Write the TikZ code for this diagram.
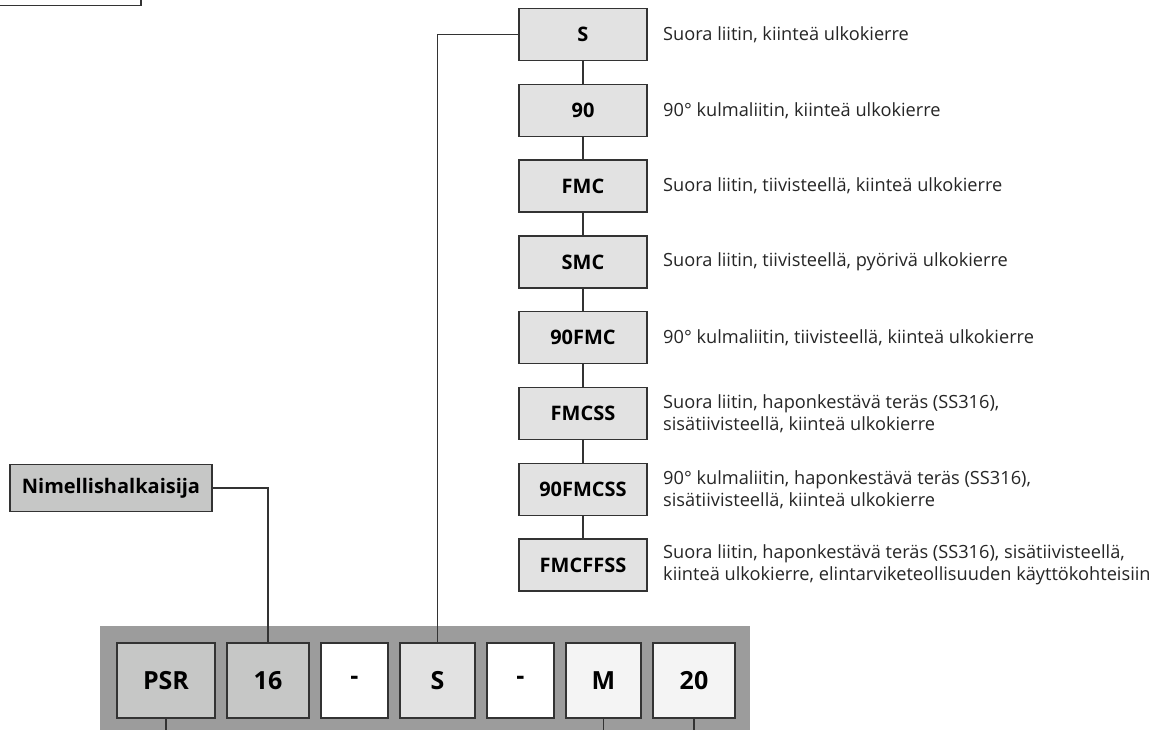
\documentclass[tikz,border=0pt]{standalone}
\usepackage{fontspec}
\setmainfont{Open Sans}
\definecolor{stripgray}{HTML}{9C9C9C}
\definecolor{midgray}{HTML}{C6C7C6}
\definecolor{boxgray}{HTML}{E2E2E2}
\definecolor{palegray}{HTML}{F4F4F4}
\definecolor{linegray}{HTML}{333333}
\begin{document}
\begin{tikzpicture}[x=1pt,y=-1pt,
 codebox/.style={draw=linegray, line width=1.3pt, fill=boxgray, minimum width=128pt, minimum height=52pt, inner sep=0pt, font=\fontsize{20}{24}\selectfont\bfseries},
 desc/.style={anchor=west, align=left, font=\fontsize{18.2}{22}\selectfont, text=black!85, inner sep=0pt},
 stripbox/.style={draw=linegray, line width=1.3pt, minimum height=75pt, inner sep=0pt, font=\fontsize{25}{30}\selectfont\bfseries},
 conn/.style={draw=linegray, line width=1.2pt}]
\useasboundingbox (0,0) rectangle (1160,729);
\clip (0,0) rectangle (1160,729);
\fill[white] (0,0) rectangle (1160,729);

% partial box top-left
\node[draw=linegray, fill=white, line width=1.3pt, minimum width=151pt, minimum height=25pt, inner sep=0pt] (tl) at (65.5,-7) {};

% column of options
\node[codebox] (c1) at (583,34.5) {S};
\node[codebox] (c2) at (583,110.3) {90};
\node[codebox] (c3) at (583,186.1) {FMC};
\node[codebox] (c4) at (583,261.9) {SMC};
\node[codebox] (c5) at (583,337.7) {90FMC};
\node[codebox] (c6) at (583,413.5) {FMCSS};
\node[codebox] (c7) at (583,489.3) {90FMCSS};
\node[codebox] (c8) at (583,565.1) {FMCFFSS};

\node[desc] (d1) at (663,34.5) {Suora liitin, kiinteä ulkokierre};
\node[desc] (d2) at (663,110.3) {90° kulmaliitin, kiinteä ulkokierre};
\node[desc] (d3) at (663,186.1) {Suora liitin, tiivisteellä, kiinteä ulkokierre};
\node[desc] (d4) at (663,261.9) {Suora liitin, tiivisteellä, pyörivä ulkokierre};
\node[desc] (d5) at (663,337.7) {90° kulmaliitin, tiivisteellä, kiinteä ulkokierre};
\node[desc] (d6) at (663,413.5) {Suora liitin, haponkestävä teräs (SS316),\\sisätiivisteellä, kiinteä ulkokierre};
\node[desc] (d7) at (663,489.3) {90° kulmaliitin, haponkestävä teräs (SS316),\\sisätiivisteellä, kiinteä ulkokierre};
\node[desc] (d8) at (663,565.1) {Suora liitin, haponkestävä teräs (SS316), sisätiivisteellä,\\kiinteä ulkokierre, elintarviketeollisuuden käyttökohteisiin};

\foreach \a/\b in {c1/c2,c2/c3,c3/c4,c4/c5,c5/c6,c6/c7,c7/c8}
  \draw[conn] (\a) -- (\b);

% Nimellishalkaisija
\node[codebox, fill=midgray, minimum width=202pt, minimum height=47pt] (nim) at (111,488) {Nimellishalkaisija};

% strip
\fill[stripgray] (100,626) rectangle (750,745);
\node[stripbox, fill=midgray, minimum width=98pt] (bPSR) at (166,680.5) {PSR};
\node[stripbox, fill=midgray, minimum width=82pt] (b16) at (268,680.5) {16};
\node[stripbox, fill=white, minimum width=67pt] (bd1) at (354.5,680.5) {-};
\node[stripbox, fill=boxgray, minimum width=75pt] (bS) at (437.5,680.5) {S};
\node[stripbox, fill=white, minimum width=67pt] (bd2) at (520.5,680.5) {-};
\node[stripbox, fill=palegray, minimum width=75pt] (bM) at (603.5,680.5) {M};
\node[stripbox, fill=palegray, minimum width=82pt] (b20) at (694,680.5) {20};

% connectors
\draw[conn] (nim.east) -| (b16.north);
\draw[conn] (c1.west) -| (bS.north);
\coordinate (ePSR) at (166,740);
\coordinate (eM) at (603.5,740);
\coordinate (e20) at (694,740);
\draw[conn] (bPSR.south) -- (ePSR);
\draw[conn] (bM.south) -- (eM);
\draw[conn] (b20.south) -- (e20);
\end{tikzpicture}
\end{document}
